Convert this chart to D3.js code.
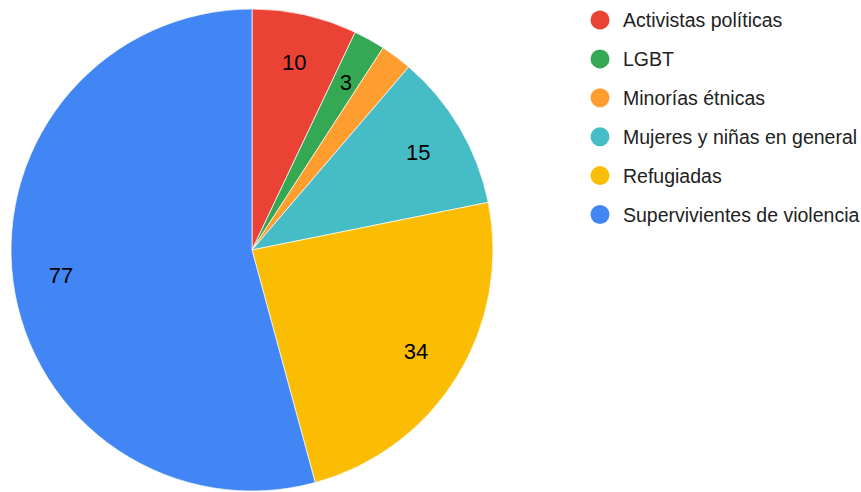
<!DOCTYPE html>
<html>
<head>
<meta charset="utf-8">
<script src="https://cdn.jsdelivr.net/npm/d3@7"></script>
<style>
  body { margin: 0; background: #fff; }
  text { font-family: "Liberation Sans", Arial, sans-serif; }
</style>
</head>
<body>
<svg id="chart"></svg>
<script>
// data
var categories = ["Activistas políticas", "LGBT", "Minorías étnicas", "Mujeres y niñas en general", "Refugiadas", "Supervivientes de violencia"];
var values = [10, 3, 3, 15, 34, 77];
var colors = ["#ea4335", "#34a853", "#ff9d2e", "#46bdc6", "#fbbc04", "#4285f4"];
var showLabel = [true, true, false, true, true, true];

var width = 861, height = 492;
var cx = 252, cy = 250, radius = 241;

var svg = d3.select("#chart")
  .attr("width", width)
  .attr("height", height);

var data = categories.map(function (c, i) {
  return { name: c, value: values[i], color: colors[i], label: showLabel[i] };
});

var pie = d3.pie()
  .value(function (d) { return d.value; })
  .sort(null);

var arc = d3.arc().innerRadius(0).outerRadius(radius);
var labelArc = d3.arc().innerRadius(radius * 0.8).outerRadius(radius * 0.8);

var g = svg.append("g")
  .attr("transform", "translate(" + cx + "," + cy + ")");

var arcs = pie(data);

g.selectAll("path")
  .data(arcs)
  .enter()
  .append("path")
  .attr("d", arc)
  .attr("fill", function (d) { return d.data.color; })
  .attr("stroke", "#fff")
  .attr("stroke-width", 0.7);

g.selectAll("text.lbl")
  .data(arcs.filter(function (d) { return d.data.label; }))
  .enter()
  .append("text")
  .attr("class", "lbl")
  .attr("transform", function (d) { return "translate(" + labelArc.centroid(d) + ")"; })
  .attr("text-anchor", "middle")
  .attr("dy", "0.36em")
  .style("font-size", "22px")
  .style("fill", "#000")
  .text(function (d) { return d.data.value; });

// legend
var legend = svg.append("g")
  .attr("transform", "translate(600,20)");

var item = legend.selectAll("g")
  .data(data)
  .enter()
  .append("g")
  .attr("transform", function (d, i) { return "translate(0," + (i * 38.9) + ")"; });

item.append("circle")
  .attr("r", 9.5)
  .attr("fill", function (d) { return d.color; });

item.append("text")
  .attr("x", 23)
  .attr("dy", "0.36em")
  .style("font-size", "19.5px")
  .style("fill", "#222")
  .text(function (d) { return d.name; });
</script>
</body>
</html>
